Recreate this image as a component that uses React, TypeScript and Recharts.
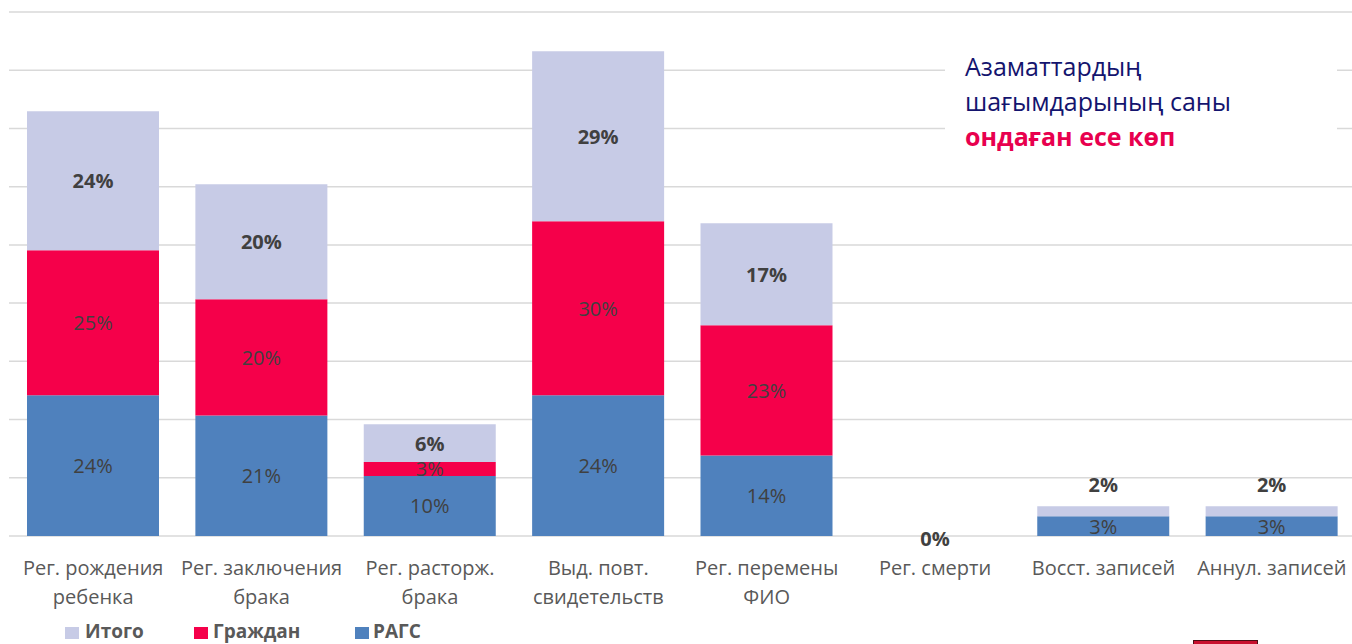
import { BarChart, Bar, XAxis, YAxis, CartesianGrid, LabelList } from 'recharts';

const categories = [
  'Рег. рождения\nребенка',
  'Рег. заключения\nбрака',
  'Рег. расторж.\nбрака',
  'Выд. повт.\nсвидетельств',
  'Рег. перемены\nФИО',
  'Рег. смерти',
  'Восст. записей',
  'Аннул. записей',
];

// bar heights (percent units)
const ragsValues = [24.17, 20.68, 10.31, 24.17, 13.81, 0, 3.38, 3.38];
const citizenValues = [24.91, 19.98, 2.41, 29.89, 22.38, 0, 0, 0];
const totalValues = [23.88, 19.76, 6.48, 29.2, 17.52, 0, 1.72, 1.72];

// data labels as printed on the bars
const ragsLabels = ['24%', '21%', '10%', '24%', '14%', '', '3%', '3%'];
const citizenLabels = ['25%', '20%', '3%', '30%', '23%', '', '', ''];
const totalLabels = ['24%', '20%', '6%', '29%', '17%', '0%', '2%', '2%'];

const yTicks = [0, 10, 20, 30, 40, 50, 60, 70, 80, 90];

const RAGS = '#4F81BD';
const CITIZEN = '#F5004A';
const TOTAL = '#C7CBE6';
const FONT = '"Open Sans", sans-serif';

const data = categories.map((name, i) => ({
  name,
  rags: ragsValues[i],
  citizen: citizenValues[i],
  total: totalValues[i],
  ragsLabel: ragsLabels[i],
  citizenLabel: citizenLabels[i],
  totalLabel: totalLabels[i],
}));

const CategoryTick = (props: any) => {
  const { x, y, payload } = props;
  const lines = String(payload.value).split('\n');
  return (
    <text x={x} y={y} textAnchor="middle" fill="#595959" fontSize={20} fontFamily={FONT}>
      {lines.map((line, i) => (
        <tspan key={i} x={x} dy={i === 0 ? 39 : 29}>
          {line}
        </tspan>
      ))}
    </text>
  );
};

const labelText = (x: number, cy: number, text: string, bold: boolean) => (
  <text
    x={x}
    y={cy}
    textAnchor="middle"
    dominantBaseline="central"
    fill="#404040"
    fontSize={20}
    fontWeight={bold ? 700 : 400}
    fontFamily={FONT}
  >
    {text}
  </text>
);

const makeLabel = (bold: boolean) => (props: any) => {
  const vb = props.viewBox || props;
  const x = Number(vb.x);
  const y = Number(vb.y);
  const w = Number(vb.width);
  let h = Number(vb.height);
  const text = props.value;
  if (!text) return null;
  if (!isFinite(h) || Math.abs(h) < 0.5) h = 0;
  let cy = y + h / 2;
  if (bold && h === 0) cy = y + 3;
  else if (bold && h < 15) cy = y - 22;
  return labelText(x + w / 2, cy, text, bold);
};

// zero-height stacks get no label from the bar itself, so the axis tick carries it
const ZeroAwareTick = (props: any) => {
  const { x, y, index } = props;
  const empty = ragsValues[index] + citizenValues[index] + totalValues[index] === 0;
  return (
    <g>
      <CategoryTick {...props} />
      {empty ? labelText(x, y + 2, totalLabels[index], true) : null}
    </g>
  );
};

const legendItems = [
  { label: 'Итого', color: TOTAL, box: 65, text: 85 },
  { label: 'Граждан', color: CITIZEN, box: 194, text: 213 },
  { label: 'РАГС', color: RAGS, box: 355, text: 373 },
];

const App = () => {
  return (
    <div
      style={{
        position: 'fixed',
        left: 0,
        top: 0,
        width: 1352,
        height: 644,
        overflow: 'hidden',
        background: '#fff',
        fontFamily: FONT,
      }}
    >
      <BarChart
        width={1356}
        height={644}
        data={data}
        margin={{ top: 12, right: 0, left: 9, bottom: 48 }}
        barCategoryGap={18}
      >
        <CartesianGrid vertical={false} stroke="#D9D9D9" strokeWidth={1.5} />
        <YAxis hide domain={[0, 90]} ticks={yTicks} />
        <XAxis
          dataKey="name"
          interval={0}
          axisLine={false}
          tickLine={false}
          tickSize={0}
          tickMargin={0}
          height={60}
          tick={<ZeroAwareTick />}
        />
        <Bar dataKey="rags" stackId="a" fill={RAGS} isAnimationActive={false}>
          <LabelList dataKey="ragsLabel" content={makeLabel(false)} />
        </Bar>
        <Bar dataKey="citizen" stackId="a" fill={CITIZEN} isAnimationActive={false}>
          <LabelList dataKey="citizenLabel" content={makeLabel(false)} />
        </Bar>
        <Bar dataKey="total" stackId="a" fill={TOTAL} isAnimationActive={false}>
          <LabelList dataKey="totalLabel" content={makeLabel(true)} />
        </Bar>
      </BarChart>

      {/* text box over the grid */}
      <div
        style={{
          position: 'absolute',
          left: 945,
          top: 30,
          width: 392,
          height: 135,
          background: '#fff',
        }}
      >
        <div
          style={{
            position: 'absolute',
            left: 20,
            top: 19,
            fontSize: 25,
            lineHeight: '35px',
            color: '#14146E',
            whiteSpace: 'nowrap',
          }}
        >
          <div>Азаматтардың</div>
          <div>шағымдарының саны</div>
          <div style={{ color: '#E8004E', fontWeight: 700 }}>ондаған есе көп</div>
        </div>
      </div>

      {legendItems.map((item) => (
        <div key={item.label}>
          <div
            style={{
              position: 'absolute',
              left: item.box,
              top: 627,
              width: 14,
              height: 12,
              background: item.color,
            }}
          />
          <div
            style={{
              position: 'absolute',
              left: item.text,
              top: 622,
              fontSize: 19,
              lineHeight: '19px',
              fontWeight: 700,
              color: '#595959',
              whiteSpace: 'nowrap',
            }}
          >
            {item.label}
          </div>
        </div>
      ))}

      <div
        style={{
          position: 'absolute',
          left: 1193,
          top: 640,
          width: 63,
          height: 10,
          background: '#C8102E',
          border: '1.5px solid #4B0D14',
        }}
      />
    </div>
  );
};

export default App;
